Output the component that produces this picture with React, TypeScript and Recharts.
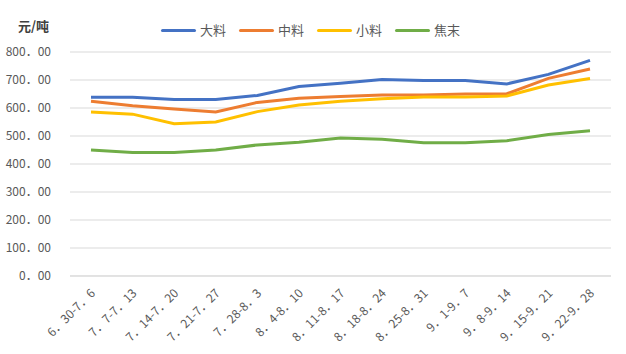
import { LineChart, Line, CartesianGrid, XAxis, YAxis } from "recharts";

const weeks = [
  "6．30-7．6", "7．7-7．13", "7．14-7．20", "7．21-7．27", "7．28-8．3", "8．4-8．10",
  "8．11-8．17", "8．18-8．24", "8．25-8．31", "9．1-9．7", "9．8-9．14", "9．15-9．21", "9．22-9．28",
];
const daliao = [638, 638, 630, 630, 645, 677, 688, 702, 698, 698, 686, 720, 770];
const zhongliao = [624, 608, 596, 586, 620, 635, 641, 646, 646, 650, 651, 706, 739];
const xiaoliao = [586, 578, 544, 550, 587, 611, 624, 633, 639, 639, 643, 682, 705];
const jiaomo = [450, 441, 441, 450, 468, 478, 493, 488, 476, 476, 483, 505, 519];
const yTicks = [0, 100, 200, 300, 400, 500, 600, 700, 800];

const series = [
  { key: "大料", values: daliao, color: "#4472C4" },
  { key: "中料", values: zhongliao, color: "#ED7D31" },
  { key: "小料", values: xiaoliao, color: "#FFC000" },
  { key: "焦末", values: jiaomo, color: "#70AD47" },
];

const data = weeks.map((w, i) => {
  const row: Record<string, string | number> = { week: w };
  series.forEach((s) => (row[s.key] = s.values[i]));
  return row;
});

const font = '"Noto Sans CJK SC", "Noto Sans", sans-serif';

const fmt = (v: number) => v.toFixed(2).replace(".", "．");

const AngledTick = (props: any) => {
  const { x, y, payload } = props;
  return (
    <g transform={`translate(${x + 5},${y + 10})`}>
      <text textAnchor="end" transform="rotate(-45)" fontSize={12} fill="#595959" fontFamily={font}>
        {payload.value}
      </text>
    </g>
  );
};

export default function App() {
  return (
    <div style={{ position: "fixed", left: 0, top: 0, width: 626, height: 354, background: "#fff" }}>
      <div style={{ position: "absolute", left: 18, top: 16, fontFamily: font, fontSize: 13, fontWeight: "bold", color: "#404040" }}>
        元/吨
      </div>
      <div
        style={{
          position: "absolute", left: 161, top: 20, display: "flex", gap: 13,
          fontFamily: font, fontSize: 13, color: "#595959", lineHeight: "20px",
        }}
      >
        {series.map((s) => (
          <div key={s.key} style={{ display: "flex", alignItems: "center" }}>
            <span style={{ display: "inline-block", width: 35, height: 3, borderRadius: 2, background: s.color, marginRight: 4 }} />
            {s.key}
          </div>
        ))}
      </div>
      <LineChart width={626} height={354} data={data} margin={{ top: 52, right: 15, bottom: 0, left: 0 }}>
        <CartesianGrid vertical={false} stroke="#d9d9d9" />
        <XAxis
          dataKey="week"
          interval={0}
          tick={<AngledTick />}
          tickLine={false}
          axisLine={{ stroke: "#d9d9d9" }}
          height={78}
          padding={{ left: 21, right: 21 }}
        />
        <YAxis
          domain={[0, 800]}
          ticks={yTicks}
          tickFormatter={fmt}
          width={70}
          axisLine={false}
          tickLine={false}
          tickMargin={13}
          tick={{ fontSize: 12, fill: "#595959", fontFamily: font }}
        />
        {series.map((s) => (
          <Line
            key={s.key}
            dataKey={s.key}
            stroke={s.color}
            strokeWidth={3}
            dot={false}
            type="linear"
            isAnimationActive={false}
          />
        ))}
      </LineChart>
    </div>
  );
}
